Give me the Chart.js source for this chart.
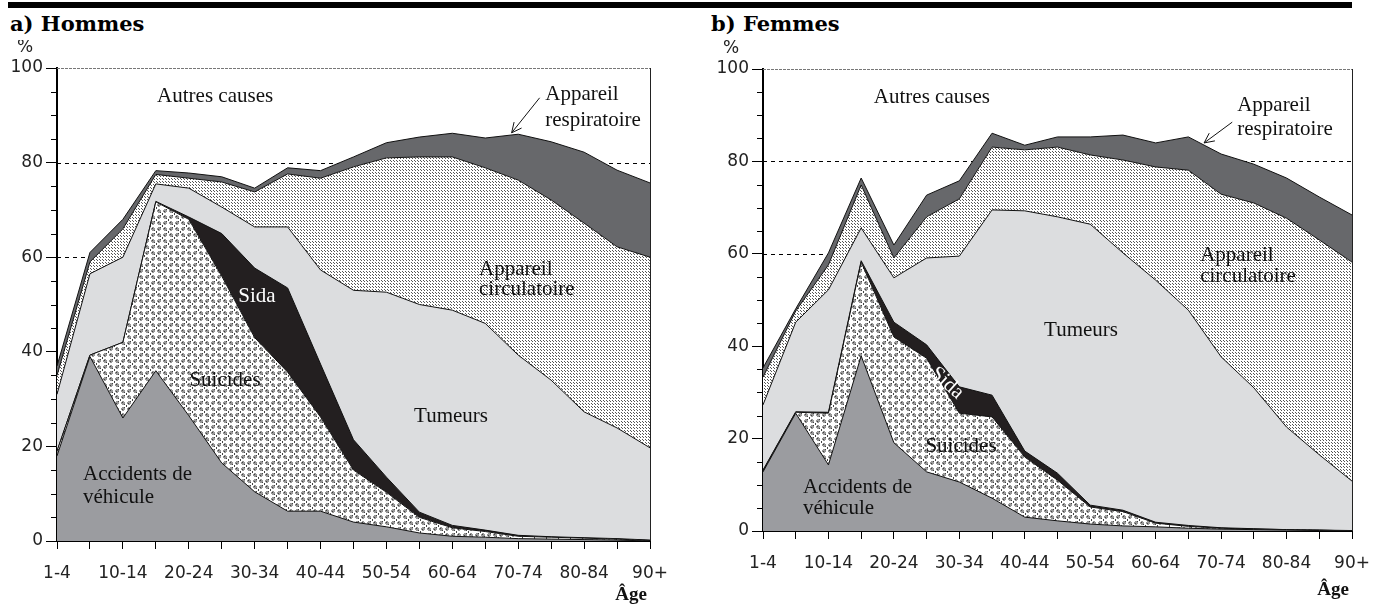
<!DOCTYPE html>
<html>
<head>
<meta charset="utf-8">
<script src="https://cdn.jsdelivr.net/npm/chart.js@4.4.1/dist/chart.umd.min.js"></script>
<style>
  body { margin: 0; background: #fff; width: 1390px; height: 608px; position: relative; overflow: hidden; }
  #bar { position: absolute; left: 8px; top: 2px; width: 1344px; height: 6px; background: #000; }
  .title { position: absolute; top: 11px; font: bold 21px 'DejaVu Serif', serif; color: #000; white-space: nowrap; }
  canvas { position: absolute; top: 40px; }
</style>
</head>
<body>
<div id="bar"></div>
<div class="title" style="left:10px">a) Hommes</div>
<div class="title" style="left:711px">b) Femmes</div>
<canvas id="hommes" width="690" height="568" style="left:0;width:690px;height:568px"></canvas>
<canvas id="femmes" width="695" height="568" style="left:695px;width:695px;height:568px"></canvas>
<script>
// age groups on the x axis
const ageGroups = ['1-4','5-9','10-14','15-19','20-24','25-29','30-34','35-39','40-44','45-49',
  '50-54','55-59','60-64','65-69','70-74','75-79','80-84','85-89','90+'];

// Hommes: share of deaths (%) by cause
const hommesAccidents    = [18, 39, 26, 36, 26.5, 16.5, 10.4, 6.3, 6.3, 4.0, 3.0, 1.7, 1.0, 0.8, 0.5, 0.4, 0.3, 0.2, 0];
const hommesSuicides     = [1, 0.3, 16, 35.7, 41.5, 39.5, 32.6, 29.4, 19.9, 11, 7.3, 3.3, 1.8, 1.2, 0.5, 0.4, 0.3, 0.2, 0.1];
const hommesSida         = [0, 0, 0, 0.1, 0.5, 9, 14.7, 17.8, 11.2, 6.4, 3.2, 1.1, 0.5, 0.3, 0.2, 0.1, 0.1, 0.1, 0.1];
const hommesTumeurs      = [12, 17.2, 18, 3.7, 6.1, 5.6, 8.7, 12.9, 19.9, 31.6, 39.1, 43.9, 45.5, 43.7, 38.1, 33.1, 26.6, 23.4, 19.5];
const hommesCirculatoire = [4, 2.5, 6, 2, 2.1, 5.3, 7.4, 11.2, 19.4, 26.1, 28.4, 31.2, 32.4, 32.9, 37, 38.1, 39.9, 38.3, 40.3];
const hommesRespiratoire = [2, 2, 2, 0.8, 1.1, 1.1, 0.8, 1.3, 1.6, 2.1, 3.2, 4.2, 5, 6.3, 9.7, 12.3, 15, 16.2, 15.7];

// Femmes
const femmesAccidents    = [12.8, 25.5, 14.3, 37.9, 19.1, 12.8, 10.6, 7.1, 3.0, 2.2, 1.5, 1.1, 0.9, 0.6, 0.4, 0.3, 0.2, 0.1, 0];
const femmesSuicides     = [0.2, 0.2, 11.2, 20.3, 22.9, 24.6, 14.9, 17.6, 13, 8.8, 3.7, 3.1, 0.8, 0.4, 0.2, 0.1, 0.1, 0.1, 0];
const femmesSida         = [0.2, 0.1, 0.2, 0.3, 3.2, 2.9, 5.7, 4.7, 1.3, 1.5, 0.4, 0.3, 0.2, 0.2, 0.1, 0.1, 0, 0, 0.1];
const femmesTumeurs      = [14.1, 19.4, 26.5, 7.1, 9.6, 18.8, 28.3, 40.1, 52, 55.5, 60.8, 55.7, 52.4, 46.6, 37, 30.5, 22.2, 16.3, 10.7];
const femmesCirculatoire = [6, 2.4, 5.4, 9.3, 4.3, 8.9, 12.4, 13.6, 13.2, 15.1, 15, 20.1, 24.5, 30.3, 35.2, 40, 45.2, 46.5, 47.4];
const femmesRespiratoire = [2, 0.5, 2.6, 1.5, 2.8, 4.7, 3.9, 3, 1, 2.2, 3.9, 5.4, 5.2, 7.2, 8.7, 8.4, 8.7, 9.3, 10.2];

const causes = ['Accidents de véhicule', 'Suicides', 'Sida', 'Tumeurs', 'Appareil circulatoire', 'Appareil respiratoire'];
const dashedLevels = [60, 80];

// fill patterns
function suicidePattern() {
  const c = document.createElement('canvas');
  c.width = 12; c.height = 12;
  const g = c.getContext('2d');
  g.fillStyle = '#fff'; g.fillRect(0, 0, 12, 12);
  g.fillStyle = '#444';
  for (let i = 0; i < 12; i += 2) {
    g.fillRect(i, i, 1, 1);
    g.fillRect(i, 11 - i, 1, 1);
  }
  g.strokeStyle = '#444'; g.lineWidth = 0.9;
  [[3, 3], [9, 9], [9, 3], [3, 9]].forEach(p => {
    g.beginPath(); g.arc(p[0], p[1], 1.3, 0, Math.PI * 2); g.stroke();
  });
  return g.createPattern(c, 'repeat');
}
function circPattern() {
  const c = document.createElement('canvas');
  c.width = 3; c.height = 3;
  const g = c.getContext('2d');
  g.fillStyle = '#fff'; g.fillRect(0, 0, 3, 3);
  g.fillStyle = '#555';
  g.fillRect(0, 0, 1, 1);
  g.fillRect(1, 1, 1, 1);
  return g.createPattern(c, 'repeat');
}
const fills = ['#9b9ca0', suicidePattern(), '#231f20', '#dcdddf', circPattern(), '#67686b'];

// gridlines, minor ticks, frame and text annotations
const decoPlugin = {
  id: 'deco',
  beforeDatasetsDraw(chart) {
    const { ctx, chartArea: a, scales: { y } } = chart;
    ctx.save();
    ctx.strokeStyle = '#000';
    ctx.lineWidth = 1;
    ctx.setLineDash([4, 4]);
    dashedLevels.forEach(v => {
      const py = Math.round(y.getPixelForValue(v)) + 0.5;
      ctx.beginPath(); ctx.moveTo(a.left, py); ctx.lineTo(a.right, py); ctx.stroke();
    });
    ctx.restore();
  },
  afterDatasetsDraw(chart, args, opts) {
    const { ctx, chartArea: a, scales: { x, y } } = chart;
    ctx.save();
    // top and right frame
    ctx.strokeStyle = '#777';
    ctx.lineWidth = 1;
    ctx.setLineDash([3, 1]);
    ctx.beginPath(); ctx.moveTo(a.left, a.top + 0.5); ctx.lineTo(a.right, a.top + 0.5); ctx.stroke();
    ctx.setLineDash([]);
    ctx.strokeStyle = '#222';
    ctx.beginPath(); ctx.moveTo(a.right + 0.5, a.top); ctx.lineTo(a.right + 0.5, a.bottom); ctx.stroke();
    // minor ticks
    ctx.strokeStyle = '#000';
    for (let v = 5; v < 100; v += 5) {
      if (v % 20 === 0) continue;
      const py = Math.round(y.getPixelForValue(v)) + 0.5;
      ctx.beginPath(); ctx.moveTo(a.left - 6, py); ctx.lineTo(a.left, py); ctx.stroke();
    }
    // labels
    opts.labels.forEach(l => {
      ctx.save();
      ctx.font = l.font || "21px 'Liberation Serif'";
      ctx.fillStyle = l.color || '#111';
      ctx.textAlign = l.align || 'center';
      ctx.textBaseline = 'middle';
      ctx.translate(x.getPixelForValue(l.x), y.getPixelForValue(l.y));
      if (l.rotate) ctx.rotate(l.rotate * Math.PI / 180);
      ctx.fillText(l.text, 0, 0);
      ctx.restore();
    });
    // arrow
    const ar = opts.arrow;
    const x0 = x.getPixelForValue(ar.from[0]), y0 = y.getPixelForValue(ar.from[1]);
    const x1 = x.getPixelForValue(ar.to[0]), y1 = y.getPixelForValue(ar.to[1]);
    const ang = Math.atan2(y1 - y0, x1 - x0);
    ctx.strokeStyle = '#111';
    ctx.lineWidth = 1;
    ctx.beginPath(); ctx.moveTo(x0, y0); ctx.lineTo(x1, y1); ctx.stroke();
    ctx.beginPath();
    ctx.moveTo(x1 - 11 * Math.cos(ang - 0.45), y1 - 11 * Math.sin(ang - 0.45));
    ctx.lineTo(x1, y1);
    ctx.lineTo(x1 - 11 * Math.cos(ang + 0.45), y1 - 11 * Math.sin(ang + 0.45));
    ctx.stroke();
    // axis captions
    ctx.fillStyle = '#222';
    ctx.font = "17px 'DejaVu Sans'";
    ctx.textAlign = 'center'; ctx.textBaseline = 'middle';
    ctx.fillText('%', a.left - 32, a.top - 20);
    ctx.fillStyle = '#111';
    ctx.font = "bold 19px 'Liberation Serif'";
    ctx.textAlign = 'right';
    ctx.fillText('Âge', a.right - 3, a.bottom + opts.ageOffset);
    ctx.restore();
  }
};

function makeChart(id, series, padding, deco) {
  return new Chart(document.getElementById(id), {
    type: 'line',
    data: {
      labels: ageGroups,
      datasets: series.map((d, i) => ({
        label: causes[i],
        data: d,
        backgroundColor: fills[i],
        borderColor: '#111',
        borderWidth: 1,
        fill: i === 0 ? 'origin' : '-1',
        pointRadius: 0,
        tension: 0
      }))
    },
    options: {
      responsive: false,
      animation: false,
      layout: { padding: padding },
      plugins: { legend: { display: false }, tooltip: { enabled: false }, deco: deco },
      scales: {
        x: {
          type: 'category',
          offset: false,
          afterFit: s => { s.height = 44; },
          grid: { drawOnChartArea: false, tickLength: 8, color: '#000' },
          border: { color: '#000', width: 2 },
          ticks: {
            autoSkip: false, maxRotation: 0, padding: 14, color: '#222',
            font: { family: 'DejaVu Sans', size: 17 },
            callback: (v, i) => (i % 2 === 0 ? ageGroups[i] : '')
          }
        },
        y: {
          stacked: true,
          min: 0, max: 100,
          afterFit: s => { s.width = 50; },
          grid: {
            drawOnChartArea: false, tickLength: 11,
            tickColor: c => (c.tick && c.tick.value % 20 === 0 ? '#000' : 'rgba(0,0,0,0)')
          },
          border: { color: '#000', width: 2 },
          ticks: {
            stepSize: 5, padding: 3, color: '#222',
            font: { family: 'DejaVu Sans', size: 17 },
            callback: v => (v % 20 === 0 ? v : '')
          }
        }
      }
    },
    plugins: [decoPlugin]
  });
}

makeChart('hommes',
  [hommesAccidents, hommesSuicides, hommesSida, hommesTumeurs, hommesCirculatoire, hommesRespiratoire],
  { left: 7, right: 40, top: 28, bottom: 23 },
  {
    ageOffset: 54,
    labels: [
      { text: 'Autres causes', x: 4.8, y: 93.9 },
      { text: 'Appareil', x: 14.82, y: 94.3, align: 'left' },
      { text: 'respiratoire', x: 14.82, y: 89.0, align: 'left' },
      { text: 'Appareil', x: 12.81, y: 57.3, align: 'left' },
      { text: 'circulatoire', x: 12.81, y: 53.1, align: 'left' },
      { text: 'Sida', x: 6.07, y: 51.6, color: '#fff' },
      { text: 'Suicides', x: 5.1, y: 34 },
      { text: 'Tumeurs', x: 11.96, y: 26.4 },
      { text: 'Accidents de', x: 0.79, y: 14.0, align: 'left' },
      { text: 'véhicule', x: 0.79, y: 9.3, align: 'left' }
    ],
    arrow: { from: [14.65, 93.7], to: [13.8, 86.3] }
  });

makeChart('femmes',
  [femmesAccidents, femmesSuicides, femmesSida, femmesTumeurs, femmesCirculatoire, femmesRespiratoire],
  { left: 18, right: 38, top: 29, bottom: 33 },
  {
    ageOffset: 59,
    labels: [
      { text: 'Autres causes', x: 5.16, y: 93.9 },
      { text: 'Appareil', x: 14.49, y: 92.2, align: 'left' },
      { text: 'respiratoire', x: 14.49, y: 86.8, align: 'left' },
      { text: 'Appareil', x: 13.36, y: 59.7, align: 'left' },
      { text: 'circulatoire', x: 13.36, y: 55.0, align: 'left' },
      { text: 'Tumeurs', x: 9.72, y: 43.5 },
      { text: 'Sida', x: 5.62, y: 32, color: '#fff', rotate: 42 },
      { text: 'Suicides', x: 6.05, y: 18.4 },
      { text: 'Accidents de', x: 1.22, y: 9.5, align: 'left' },
      { text: 'véhicule', x: 1.22, y: 4.8, align: 'left' }
    ],
    arrow: { from: [14.34, 88.5], to: [13.48, 84.0] }
  });
</script>
</body>
</html>
